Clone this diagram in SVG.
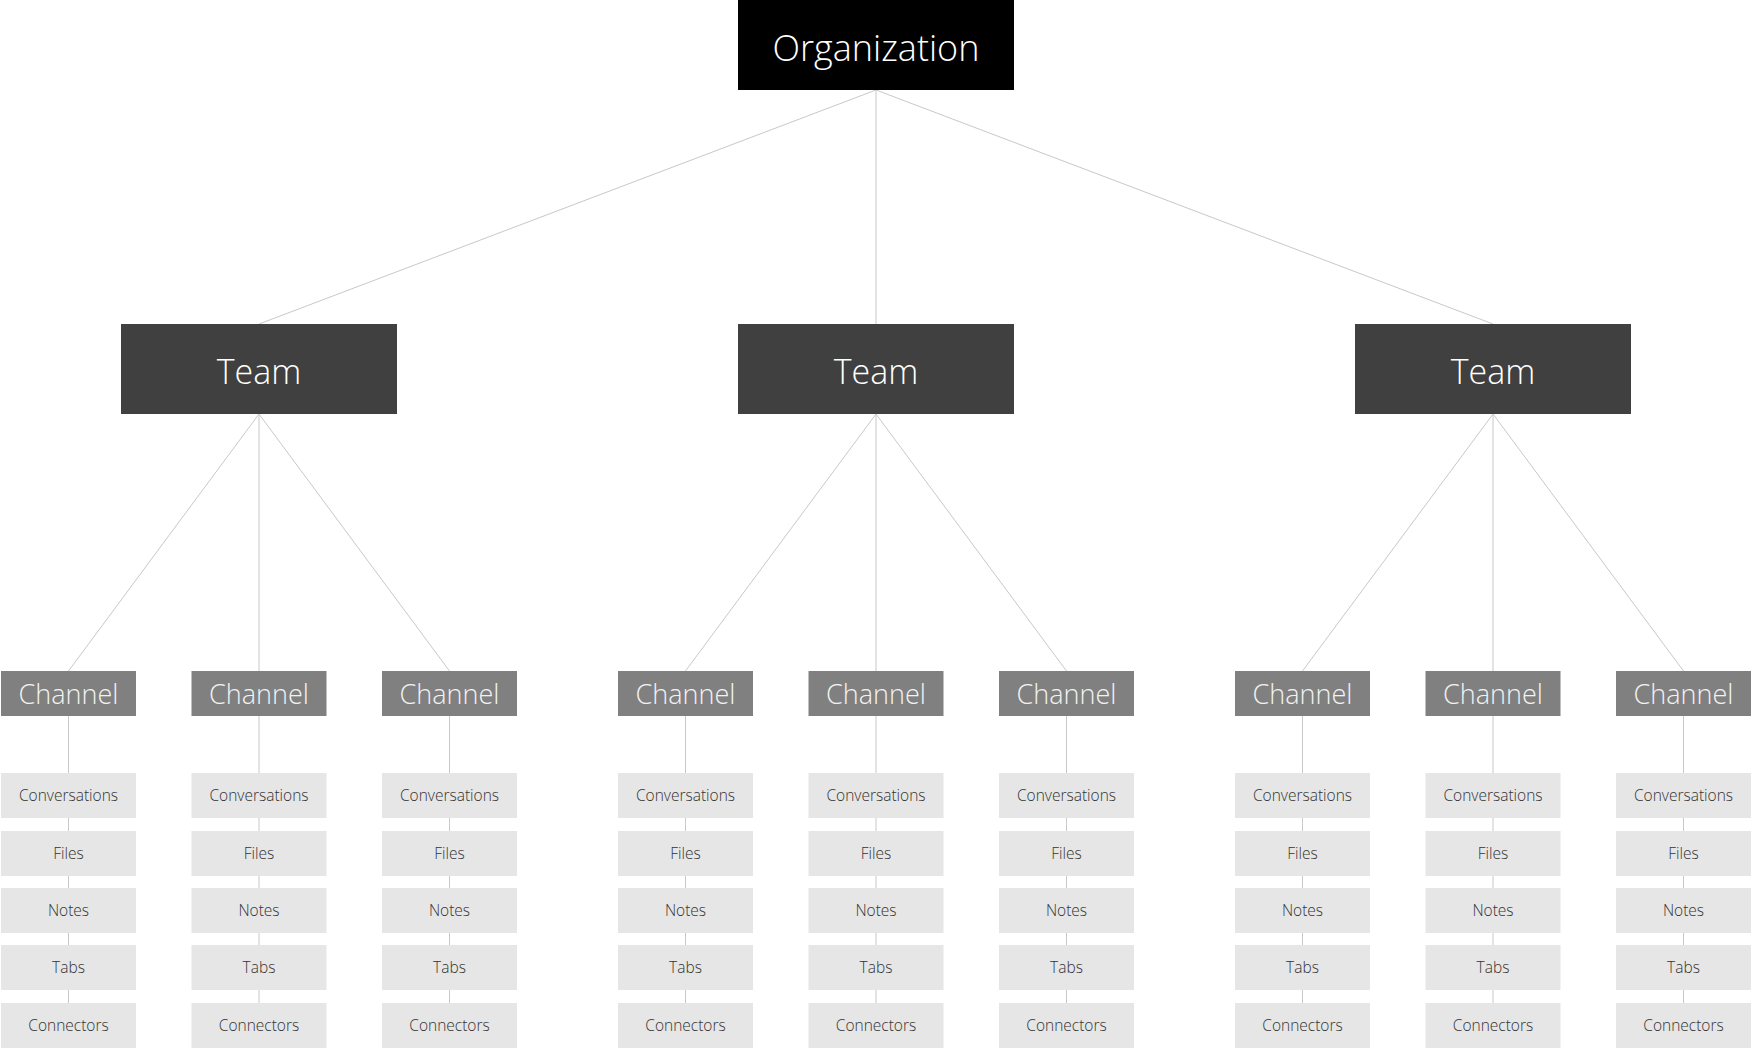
<svg xmlns="http://www.w3.org/2000/svg" width="1752" height="1048" viewBox="0 0 1752 1048">
<style>
text{font-family:"Open Sans","Liberation Sans",sans-serif;font-weight:300;text-anchor:middle}
.org rect{fill:#000000}
.team rect{fill:#404040}
.chan rect{fill:#808080}
.item rect{fill:#e6e6e6}
.org text{fill:#ffffff;font-size:36px}
.team text{fill:#ffffff;font-size:34px}
.chan text{fill:#f2f2f2;font-size:27px}
.item text{fill:#333333;font-size:15.5px}
#connectors line{stroke:#c8c8c8;stroke-width:1}
</style>
<g id="connectors">
<line x1="876" y1="90" x2="259" y2="324"/>
<line x1="876" y1="90" x2="876" y2="324"/>
<line x1="876" y1="90" x2="1493" y2="324"/>
<line x1="259" y1="414" x2="68.5" y2="671"/>
<line x1="259" y1="414" x2="259" y2="671"/>
<line x1="259" y1="414" x2="449.5" y2="671"/>
<line x1="876" y1="414" x2="685.5" y2="671"/>
<line x1="876" y1="414" x2="876" y2="671"/>
<line x1="876" y1="414" x2="1066.5" y2="671"/>
<line x1="1493" y1="414" x2="1302.5" y2="671"/>
<line x1="1493" y1="414" x2="1493" y2="671"/>
<line x1="1493" y1="414" x2="1683.5" y2="671"/>
<g id="chanlines">
<line x1="68.5" y1="716" x2="68.5" y2="1003"/>
<line x1="259" y1="716" x2="259" y2="1003"/>
<line x1="449.5" y1="716" x2="449.5" y2="1003"/>
<line x1="685.5" y1="716" x2="685.5" y2="1003"/>
<line x1="876" y1="716" x2="876" y2="1003"/>
<line x1="1066.5" y1="716" x2="1066.5" y2="1003"/>
<line x1="1302.5" y1="716" x2="1302.5" y2="1003"/>
<line x1="1493" y1="716" x2="1493" y2="1003"/>
<line x1="1683.5" y1="716" x2="1683.5" y2="1003"/>
</g>
</g>
<g id="org" class="org"><rect x="738" y="0" width="276" height="90"/><text x="876" y="61">Organization</text></g>
<g id="team1" class="team"><rect x="121" y="324" width="276" height="90"/><text x="259" y="384">Team</text></g>
<g id="team2" class="team"><rect x="738" y="324" width="276" height="90"/><text x="876" y="384">Team</text></g>
<g id="team3" class="team"><rect x="1355" y="324" width="276" height="90"/><text x="1493" y="384">Team</text></g>
<g id="ch1" class="chan"><rect x="1" y="671" width="135" height="45"/><text x="68.5" y="704">Channel</text></g>
<g id="ch2" class="chan"><rect x="191.5" y="671" width="135" height="45"/><text x="259" y="704">Channel</text></g>
<g id="ch3" class="chan"><rect x="382" y="671" width="135" height="45"/><text x="449.5" y="704">Channel</text></g>
<g id="ch4" class="chan"><rect x="618" y="671" width="135" height="45"/><text x="685.5" y="704">Channel</text></g>
<g id="ch5" class="chan"><rect x="808.5" y="671" width="135" height="45"/><text x="876" y="704">Channel</text></g>
<g id="ch6" class="chan"><rect x="999" y="671" width="135" height="45"/><text x="1066.5" y="704">Channel</text></g>
<g id="ch7" class="chan"><rect x="1235" y="671" width="135" height="45"/><text x="1302.5" y="704">Channel</text></g>
<g id="ch8" class="chan"><rect x="1425.5" y="671" width="135" height="45"/><text x="1493" y="704">Channel</text></g>
<g id="ch9" class="chan"><rect x="1616" y="671" width="135" height="45"/><text x="1683.5" y="704">Channel</text></g>
<defs>
<g id="stack">
<g class="item"><rect x="-67.5" y="773" width="135" height="45"/><text x="0" y="801">Conversations</text></g>
<g class="item"><rect x="-67.5" y="831" width="135" height="45"/><text x="0" y="859">Files</text></g>
<g class="item"><rect x="-67.5" y="888" width="135" height="45"/><text x="0" y="916">Notes</text></g>
<g class="item"><rect x="-67.5" y="945" width="135" height="45"/><text x="0" y="973">Tabs</text></g>
<g class="item"><rect x="-67.5" y="1003" width="135" height="45"/><text x="0" y="1031">Connectors</text></g>
</g>
</defs>
<g id="items1"><use href="#stack" x="68.5"/></g>
<g id="items2"><use href="#stack" x="259"/></g>
<g id="items3"><use href="#stack" x="449.5"/></g>
<g id="items4"><use href="#stack" x="685.5"/></g>
<g id="items5"><use href="#stack" x="876"/></g>
<g id="items6"><use href="#stack" x="1066.5"/></g>
<g id="items7"><use href="#stack" x="1302.5"/></g>
<g id="items8"><use href="#stack" x="1493"/></g>
<g id="items9"><use href="#stack" x="1683.5"/></g>
</svg>
